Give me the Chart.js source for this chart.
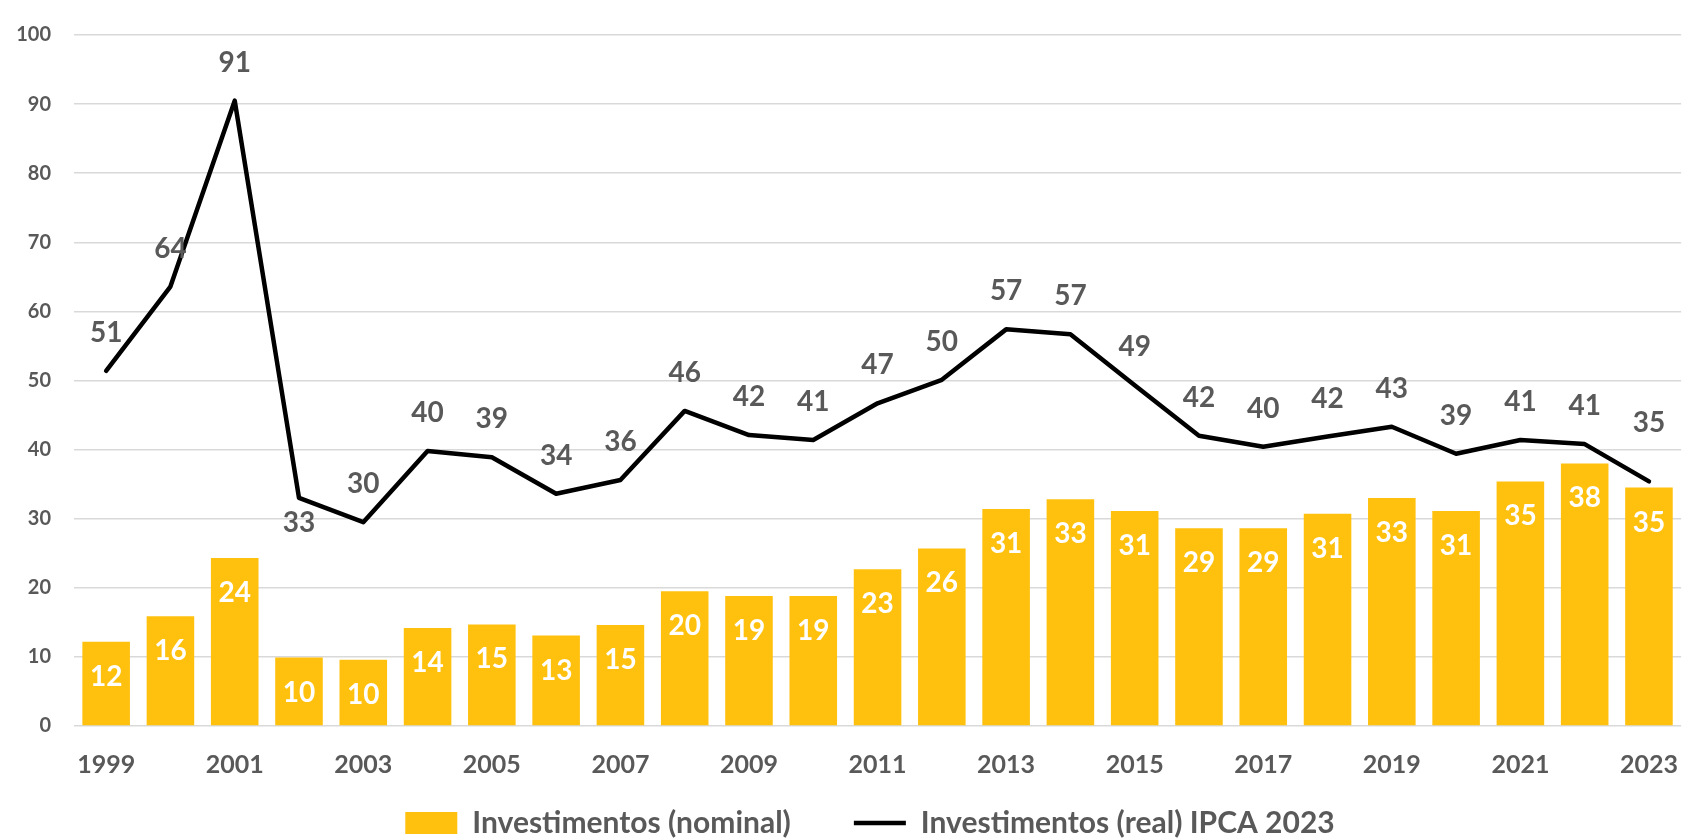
<!DOCTYPE html>
<html>
<head>
<meta charset="utf-8">
<script src="https://cdn.jsdelivr.net/npm/chart.js@4"></script>
<style>
  html, body { margin: 0; padding: 0; background: #ffffff; }
  #wrap { width: 1702px; height: 840px; position: relative; }
</style>
</head>
<body>
<div id="wrap"><canvas id="c" width="1702" height="840"></canvas></div>
<script>
const years = ['1999','2000','2001','2002','2003','2004','2005','2006','2007','2008','2009','2010','2011','2012','2013','2014','2015','2016','2017','2018','2019','2020','2021','2022','2023'];
const nominal = [12.2, 15.9, 24.3, 9.9, 9.6, 14.2, 14.7, 13.1, 14.6, 19.5, 18.8, 18.8, 22.7, 25.7, 31.4, 32.8, 31.1, 28.6, 28.6, 30.7, 33.0, 31.1, 35.4, 38.0, 34.5];
const real = [51.4, 63.6, 90.5, 33.0, 29.5, 39.8, 38.9, 33.6, 35.6, 45.6, 42.1, 41.4, 46.7, 50.1, 57.4, 56.7, 49.3, 42.0, 40.4, 41.9, 43.3, 39.4, 41.4, 40.8, 35.4];
const yTicks = [0, 10, 20, 30, 40, 50, 60, 70, 80, 90, 100];
const seriesNames = ['Investimentos (nominal)', 'Investimentos (real) IPCA 2023'];

const FONT = 'Lato, "Open Sans", "DejaVu Sans", sans-serif';
const GRAY = '#595959';
const GOLD = '#FFC10E';

const labelPlugin = {
  id: 'valueLabels',
  afterLayout(chart) {
    if (chart.legend) { chart.legend.left += 20; chart.legend.right += 20; }
  },
  afterDatasetsDraw(chart) {
    const ctx = chart.ctx;
    ctx.save();
    ctx.font = 'bold 28px ' + FONT;
    ctx.textAlign = 'center';
    ctx.textBaseline = 'middle';
    const barMeta = chart.getDatasetMeta(0);
    barMeta.data.forEach((el, i) => {
      ctx.fillStyle = '#ffffff';
      ctx.fillText(Math.round(nominal[i]).toString(), el.x, el.y + 35);
    });
    const lineMeta = chart.getDatasetMeta(1);
    lineMeta.data.forEach((el, i) => {
      let dy = -38;
      if (i === 3) dy = 25;
      if (i === 24) dy = -58;
      ctx.fillStyle = GRAY;
      ctx.fillText(Math.round(real[i]).toString(), el.x, el.y + dy);
    });
    ctx.restore();
  }
};

new Chart(document.getElementById('c'), {
  data: {
    labels: years,
    datasets: [
      {
        type: 'bar',
        label: seriesNames[0],
        data: nominal,
        backgroundColor: GOLD,
        borderWidth: 0,
        barPercentage: 0.74,
        categoryPercentage: 1.0,
        pointStyle: 'rect',
        order: 2
      },
      {
        type: 'line',
        label: seriesNames[1],
        data: real,
        borderColor: '#000000',
        backgroundColor: '#000000',
        borderWidth: 4.5,
        pointRadius: 0,
        pointHoverRadius: 0,
        tension: 0,
        borderJoinStyle: 'round',
        borderCapStyle: 'round',
        pointStyle: 'line',
        order: 1
      }
    ]
  },
  options: {
    responsive: false,
    animation: false,
    events: [],
    layout: { padding: { top: 27, right: 2, bottom: -8, left: 0 } },
    plugins: {
      tooltip: { enabled: false },
      legend: {
        position: 'bottom',
        labels: {
          usePointStyle: true,
          pointStyleWidth: 52,
          boxHeight: 22,
          padding: 3,
          color: GRAY,
          font: { family: FONT, size: 30, weight: 'bold' },
          sort: (a, b) => a.datasetIndex - b.datasetIndex,
          generateLabels(chart) {
            const items = Chart.defaults.plugins.legend.labels.generateLabels(chart);
            items.forEach(it => { if (it.datasetIndex === 0) it.text = it.text + '\u2003\u2003\u2002'; });
            return items;
          }
        }
      }
    },
    scales: {
      x: {
        grid: { display: false, drawTicks: false },
        border: { display: false },
        ticks: {
          autoSkip: false,
          maxRotation: 0,
          minRotation: 0,
          padding: 24,
          color: GRAY,
          font: { family: FONT, size: 25, weight: 'bold' },
          callback: function(v, i) { return i % 2 === 0 ? years[i] : ''; }
        },
        afterFit(scale) { scale.height = 79; }
      },
      y: {
        min: 0,
        max: 100,
        afterBuildTicks(scale) { scale.ticks = yTicks.map(v => ({ value: v })); },
        grid: { color: '#d9d9d9', lineWidth: 1.5, drawTicks: false },
        border: { display: false },
        ticks: {
          padding: 23,
          color: GRAY,
          font: { family: FONT, size: 20, weight: 'bold' }
        },
        afterFit(scale) { scale.width = 74; }
      }
    }
  },
  plugins: [labelPlugin]
});
</script>
</body>
</html>
